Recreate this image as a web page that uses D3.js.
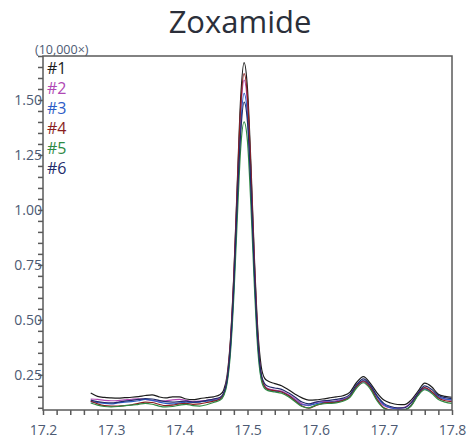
<!DOCTYPE html>
<html>
<head>
<meta charset="utf-8">
<script src="https://cdn.jsdelivr.net/npm/d3@7"></script>
<style>
  body { margin: 0; background: #fff; }
  text { font-family: "Open Sans", "Noto Sans", sans-serif; }
</style>
</head>
<body>
<div id="chart"></div>
<script>
// retention time (min)
const times = [
  17.27, 17.28, 17.29, 17.30, 17.31, 17.32, 17.33, 17.34, 17.35, 17.36,
  17.37, 17.38, 17.39, 17.40, 17.41, 17.42, 17.43, 17.44, 17.45, 17.46,
  17.465, 17.47, 17.475, 17.48, 17.485, 17.49, 17.495, 17.50, 17.505, 17.51,
  17.515, 17.52, 17.525,
  17.53, 17.54, 17.55, 17.56, 17.57, 17.58, 17.59, 17.60, 17.61, 17.62,
  17.63, 17.64, 17.65, 17.66, 17.67, 17.68, 17.69, 17.70, 17.71, 17.72,
  17.73, 17.74, 17.75, 17.76, 17.77, 17.78, 17.79, 17.80
];

const run1 = [
  0.167, 0.152, 0.147, 0.145, 0.144, 0.146, 0.148, 0.151, 0.156, 0.159,
  0.150, 0.145, 0.150, 0.150, 0.140, 0.137, 0.142, 0.146, 0.150, 0.160,
  0.180, 0.245, 0.41, 0.71, 1.12, 1.51, 1.67, 1.55, 1.21, 0.79,
  0.46, 0.29, 0.235,
  0.222, 0.210, 0.200, 0.182, 0.162, 0.145, 0.135, 0.136, 0.140, 0.145,
  0.150, 0.155, 0.170, 0.215, 0.242, 0.212, 0.168, 0.135, 0.122, 0.115,
  0.114, 0.135, 0.175, 0.212, 0.196, 0.162, 0.152, 0.148
];
const run2 = [
  0.140, 0.138, 0.134, 0.132, 0.133, 0.136, 0.139, 0.141, 0.138, 0.133,
  0.130, 0.132, 0.136, 0.138, 0.134, 0.128, 0.130, 0.134, 0.138, 0.145,
  0.165, 0.23, 0.39, 0.68, 1.07, 1.44, 1.59, 1.48, 1.15, 0.75,
  0.42, 0.25, 0.20,
  0.188, 0.180, 0.176, 0.160, 0.140, 0.118, 0.110, 0.124, 0.128, 0.128,
  0.132, 0.140, 0.152, 0.195, 0.218, 0.192, 0.140, 0.110, 0.100, 0.098,
  0.102, 0.125, 0.165, 0.190, 0.172, 0.148, 0.138, 0.135
];
const run3 = [
  0.128, 0.124, 0.120, 0.118, 0.122, 0.126, 0.128, 0.132, 0.138, 0.134,
  0.126, 0.120, 0.118, 0.122, 0.126, 0.124, 0.126, 0.130, 0.134, 0.140,
  0.160, 0.22, 0.37, 0.65, 1.03, 1.38, 1.53, 1.43, 1.11, 0.72,
  0.40, 0.24, 0.195,
  0.182, 0.176, 0.172, 0.156, 0.134, 0.114, 0.112, 0.118, 0.124, 0.126,
  0.128, 0.136, 0.152, 0.200, 0.224, 0.200, 0.150, 0.115, 0.100, 0.094,
  0.092, 0.112, 0.158, 0.186, 0.172, 0.150, 0.140, 0.136
];
const run4 = [
  0.130, 0.118, 0.110, 0.108, 0.108, 0.110, 0.114, 0.120, 0.126, 0.124,
  0.116, 0.110, 0.112, 0.118, 0.120, 0.116, 0.118, 0.124, 0.130, 0.140,
  0.160, 0.23, 0.40, 0.70, 1.10, 1.47, 1.62, 1.51, 1.18, 0.77,
  0.43, 0.25, 0.198,
  0.184, 0.178, 0.172, 0.156, 0.132, 0.108, 0.098, 0.110, 0.120, 0.124,
  0.126, 0.134, 0.150, 0.196, 0.222, 0.194, 0.138, 0.100, 0.090, 0.088,
  0.090, 0.110, 0.160, 0.192, 0.174, 0.145, 0.132, 0.128
];
const run5 = [
  0.122, 0.112, 0.106, 0.104, 0.106, 0.110, 0.112, 0.116, 0.120, 0.116,
  0.108, 0.104, 0.106, 0.112, 0.116, 0.110, 0.108, 0.114, 0.124, 0.135,
  0.155, 0.21, 0.35, 0.61, 0.96, 1.28, 1.40, 1.31, 1.02, 0.66,
  0.37, 0.23, 0.188,
  0.178, 0.172, 0.166, 0.150, 0.128, 0.106, 0.100, 0.112, 0.118, 0.120,
  0.122, 0.130, 0.146, 0.190, 0.214, 0.186, 0.132, 0.098, 0.088, 0.086,
  0.090, 0.108, 0.155, 0.182, 0.166, 0.138, 0.126, 0.120
];
const run6 = [
  0.135, 0.128, 0.124, 0.122, 0.125, 0.130, 0.134, 0.138, 0.142, 0.140,
  0.134, 0.128, 0.126, 0.128, 0.130, 0.126, 0.128, 0.134, 0.140, 0.148,
  0.168, 0.225, 0.38, 0.66, 1.04, 1.35, 1.49, 1.40, 1.10, 0.72,
  0.41, 0.255, 0.210,
  0.198, 0.190, 0.184, 0.168, 0.148, 0.126, 0.118, 0.126, 0.132, 0.134,
  0.138, 0.144, 0.160, 0.205, 0.232, 0.204, 0.155, 0.120, 0.106, 0.100,
  0.100, 0.122, 0.166, 0.200, 0.184, 0.156, 0.146, 0.142
];

const runNames = ['#1', '#2', '#3', '#4', '#5', '#6'];
const runColors = ['#1c1c1c', '#b048b4', '#2d5cc6', '#8a1f1f', '#2e8a44', '#222a6a'];
const runs = [run1, run2, run3, run4, run5, run6];

const xTickLabels = [17.2, 17.3, 17.4, 17.5, 17.6, 17.7, 17.8];
const yTickLabels = [0.25, 0.50, 0.75, 1.00, 1.25, 1.50];

const width = 470;
const height = 439;
const margin = { top: 56, right: 18, bottom: 29, left: 43 };

const svg = d3.select('#chart').append('svg')
  .attr('width', width)
  .attr('height', height);

const x = d3.scaleLinear()
  .domain([17.2, 17.8])
  .range([margin.left, width - margin.right]);

const y = d3.scaleLinear()
  .domain([0.09, 1.70])
  .range([height - margin.bottom, margin.top]);

// title
svg.append('text')
  .attr('x', 240)
  .attr('y', 33)
  .attr('text-anchor', 'middle')
  .attr('fill', '#2b2f3a')
  .attr('font-size', '31px')
  .text('Zoxamide');

svg.append('text')
  .attr('x', 35)
  .attr('y', 54)
  .attr('fill', '#4d5a73')
  .attr('font-size', '12.5px')
  .text('(10,000×)');

svg.append('clipPath')
  .attr('id', 'plot-clip')
  .append('rect')
  .attr('x', margin.left)
  .attr('y', margin.top)
  .attr('width', width - margin.left - margin.right)
  .attr('height', height - margin.top - margin.bottom);

// traces
const line = d3.line()
  .x((d, i) => x(times[i]))
  .y(d => y(d))
  .curve(d3.curveMonotoneX);

svg.append('g')
  .attr('clip-path', 'url(#plot-clip)')
  .selectAll('path')
  .data(runs)
  .enter()
  .append('path')
  .attr('d', line)
  .attr('fill', 'none')
  .attr('stroke', (d, i) => runColors[i])
  .attr('stroke-width', 1.2);

// frame
svg.append('rect')
  .attr('x', margin.left)
  .attr('y', margin.top)
  .attr('width', width - margin.left - margin.right)
  .attr('height', height - margin.top - margin.bottom)
  .attr('fill', 'none')
  .attr('stroke', '#5a5a5a')
  .attr('stroke-width', 1.5);

// x axis: minor ticks every 0.02, labels every 0.1
const xAxis = svg.append('g')
  .attr('transform', `translate(0,${height - margin.bottom})`)
  .call(d3.axisBottom(x)
    .tickValues(d3.range(0, 31).map(i => 17.2 + i * 0.02))
    .tickSize(5)
    .tickFormat(''));
xAxis.select('.domain').remove();

const xLabels = svg.append('g')
  .attr('transform', `translate(0,${height - margin.bottom})`)
  .call(d3.axisBottom(x)
    .tickValues(xTickLabels)
    .tickSize(0)
    .tickPadding(15)
    .tickFormat(d3.format('.1f')));
xLabels.select('.domain').remove();

// y axis: minor ticks every 0.05, labels every 0.25
const yAxis = svg.append('g')
  .attr('transform', `translate(${margin.left},0)`)
  .call(d3.axisLeft(y)
    .tickValues(d3.range(0, 33).map(i => 0.10 + i * 0.05))
    .tickSize(5)
    .tickFormat(''));
yAxis.select('.domain').remove();

const yLabels = svg.append('g')
  .attr('transform', `translate(${margin.left},0)`)
  .call(d3.axisLeft(y)
    .tickValues(yTickLabels)
    .tickSize(0)
    .tickPadding(1)
    .tickFormat(d3.format('.2f')));
yLabels.select('.domain').remove();

svg.selectAll('.tick line').attr('stroke', '#5a5a5a').attr('stroke-width', 1.5);
svg.selectAll('.tick text')
  .attr('fill', '#4d5a73')
  .attr('font-size', '14px')
  .attr('font-family', '"Open Sans", "Noto Sans", sans-serif');

// legend
const legend = svg.append('g');
legend.selectAll('text')
  .data(runNames)
  .enter()
  .append('text')
  .attr('x', 47)
  .attr('y', (d, i) => 74 + i * 20)
  .attr('fill', (d, i) => runColors[i])
  .attr('font-size', '16px')
  .attr('font-family', '"Liberation Sans", Arial, sans-serif')
  .text(d => d);
</script>
</body>
</html>
